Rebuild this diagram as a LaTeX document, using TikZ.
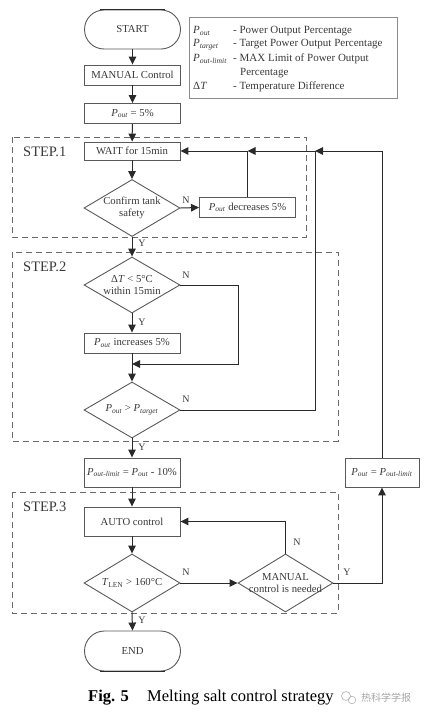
\documentclass[tikz,border=0pt]{standalone}
\usepackage{fontspec}
\setmainfont{Liberation Serif}
\newfontfamily\cjkfont{Noto Sans CJK SC}
\usetikzlibrary{arrows.meta,shapes.geometric}
\newcommand{\Pv}[1]{\textit{P}\textsubscript{\textit{#1}}}
\definecolor{boxc}{HTML}{5A5A5A}
\definecolor{linec}{HTML}{2A2A2A}
\definecolor{txtc}{HTML}{3A3A3A}
\definecolor{dashc}{HTML}{6A6A6A}
\begin{document}
\begin{tikzpicture}[x=1pt,y=-1pt,
  bx/.style={draw=boxc, line width=0.9pt, minimum width=96pt, minimum height=20pt, inner sep=1pt, font=\fontsize{10.7}{12}\selectfont, text=txtc},
  bxt/.style={bx, minimum height=29pt},
  term/.style={draw=boxc, line width=0.9pt, minimum width=96pt, minimum height=39pt, rounded corners=19.5pt, font=\fontsize{10.7}{12}\selectfont, text=txtc},
  dia/.style={draw=boxc, line width=0.9pt, diamond, minimum width=96pt, minimum height=57pt, inner sep=0pt},
  dtxt/.style={font=\fontsize{10.7}{12}\selectfont, text=txtc, align=center, inner sep=0pt},
  arr/.style={draw=linec, line width=1pt, -{Triangle[length=8pt,width=7.5pt]}},
  ln/.style={draw=linec, line width=1pt},
  dbox/.style={draw=dashc, line width=1pt, dash pattern=on 6pt off 4pt},
  yn/.style={font=\fontsize{10}{12}\selectfont, text=txtc, inner sep=0pt},
  steplbl/.style={font=\fontsize{14.5}{16}\selectfont, text=txtc, anchor=west, inner sep=0pt},
  leg/.style={font=\fontsize{11}{12}\selectfont, text=txtc, anchor=base west, inner sep=0pt},
]
\useasboundingbox (0,0) rectangle (424,717);
\fill[white] (0,0) rectangle (424,717);

% dashed step boxes
\draw[dbox] (12,137) rectangle (306,237);
\draw[dbox] (12,252) rectangle (338,441);
\draw[dbox] (12,492) rectangle (338,613);
\node[steplbl] (s1) at (23,152) {STEP.1};
\node[steplbl] (s2) at (23,267) {STEP.2};
\node[steplbl] (s3) at (23,507) {STEP.3};

% nodes
\node[term] (start) at (132.5,29.5) {START};
\draw[line width=1.6pt, linec] ([xshift=16pt]start.north west) -- ([xshift=-16pt]start.north east);
\node[bx] (manual) at (132.5,75) {MANUAL Control};
\node[bx] (p5) at (132.5,113.5) {\Pv{out} = 5\%};
\node[bx, minimum height=18pt] (wait) at (132,151) {WAIT for 15min};
\node[dia] (d1) at (132,208) {};
\node[dtxt] (d1t) at (d1) {Confirm tank\\safety};
\node[bx] (dec) at (247.5,207.5) {\Pv{out} decreases 5\%};
\node[dia, minimum height=56pt] (d2) at (132,285) {};
\node[dtxt] (d2t) at (d2) {Δ\textit{T} < 5°C\\within 15min};
\node[bx] (inc) at (132,343) {\Pv{out} increases 5\%};
\node[dia, minimum height=56pt] (d3) at (132,410) {};
\node[dtxt] (d3t) at (d3) {\Pv{out} > \Pv{target}};
\node[bxt] (lim) at (132,472.5) {\Pv{out-limit} = \Pv{out} - 10\%};
\node[bxt, minimum width=74pt] (rb) at (382,472.5) {\Pv{out} = \Pv{out-limit}};
\node[bxt] (auto) at (132,521.5) {AUTO control};
\node[dia, minimum height=58pt] (d4) at (132,583) {};
\node[dtxt] (d4t) at (d4) {\textit{T}\textsubscript{LEN} > 160°C};
\node[dia, minimum height=58pt, minimum width=95pt] (d5) at (285.5,583) {};
\node[dtxt] (d5t) at (d5) {MANUAL\\control is needed};
\node[term, minimum height=40pt, rounded corners=20pt] (end) at (132.5,651) {END};
\draw[line width=1.6pt, linec] ([xshift=16pt]end.south west) -- ([xshift=-16pt]end.south east);

% legend
\draw[draw=boxc!70, line width=0.8pt] (189,17) rectangle (397,98);
\node[leg] (l1a) at (193,33.5) {\Pv{out}};
\node[leg] (l1b) at (233,33.5) {- Power Output Percentage};
\node[leg] (l2a) at (193,47) {\Pv{target}};
\node[leg] (l2b) at (233,47) {- Target Power Output Percentage};
\node[leg] (l3a) at (193,61.5) {\Pv{out-limit}};
\node[leg] (l3b) at (233,61.5) {- MAX Limit of Power Output};
\node[leg] (l4b) at (240,75) {Percentage};
\node[leg] (l5a) at (193,89.5) {Δ\textit{T}};
\node[leg] (l5b) at (233,89.5) {- Temperature Difference};

% coordinates
\coordinate (j383) at (382,151);
\coordinate (j315) at (315,151);
\coordinate (j247) at (247.5,151);
\coordinate (m1) at (132,364);

% connectors
\draw[arr] (start) -- (manual);
\draw[arr] (manual) -- (p5);
\draw[arr] (p5) -- (wait);
\draw[arr] (wait) -- (d1);
\draw[arr] (d1.east) -- (dec.west);
\draw[ln] (dec.north) -- (j247);
\draw[arr] (j383) -- (j315);
\draw[arr] (j315) -- (j247);
\draw[arr] (j247) -- (wait.east);
\draw[arr] (d1.south) -- (d2.north);
\draw[arr] (d2.south) -- (inc.north);
\draw[arr] (d2.east) -- (238,285) -- (238,364) -- (m1);
\draw[arr] (inc.south) -- (d3.north);
\draw[ln] (d3.east) -| (j315);
\draw[arr] (d3.south) -- (lim.north);
\draw[ln] (rb.north) -- (j383);
\draw[arr] (lim.south) -- (auto.north);
\draw[arr] (auto.south) -- (d4.north);
\draw[arr] (d4.east) -- (d5.west);
\draw[arr] (d5.north) |- (auto.east);
\draw[arr] (d5.east) -| (rb.south);
\draw[arr] (d4.south) -- (end.north);

% Y/N labels
\node[yn] (n1) at (186,200) {N};
\node[yn] (y1) at (142,243) {Y};
\node[yn] (n2) at (186,275) {N};
\node[yn] (y2) at (142,322) {Y};
\node[yn] (n3) at (186,399) {N};
\node[yn] (y3) at (142,447) {Y};
\node[yn] (n4) at (186,572) {N};
\node[yn] (n5) at (297,542) {N};
\node[yn] (y5) at (347,572) {Y};
\node[yn] (y4) at (142,620) {Y};

% caption
\node[anchor=base west, inner sep=0pt, font=\fontsize{16.5}{18}\selectfont\bfseries] (cap1) at (88,701) {Fig. 5};
\node[anchor=base west, inner sep=0pt, font=\fontsize{16.5}{18}\selectfont] (cap2) at (147,701) {Melting salt control strategy};
% watermark
\draw[gray!60, line width=0.6pt] (346,696) circle (4.5pt);
\draw[gray!60, line width=0.6pt] (352,700) circle (3.8pt);
\node[anchor=base west, inner sep=0pt, font=\cjkfont\fontsize{10}{12}\selectfont, text=gray!70] (wm) at (361,701) {热科学学报};
\end{tikzpicture}
\end{document}
